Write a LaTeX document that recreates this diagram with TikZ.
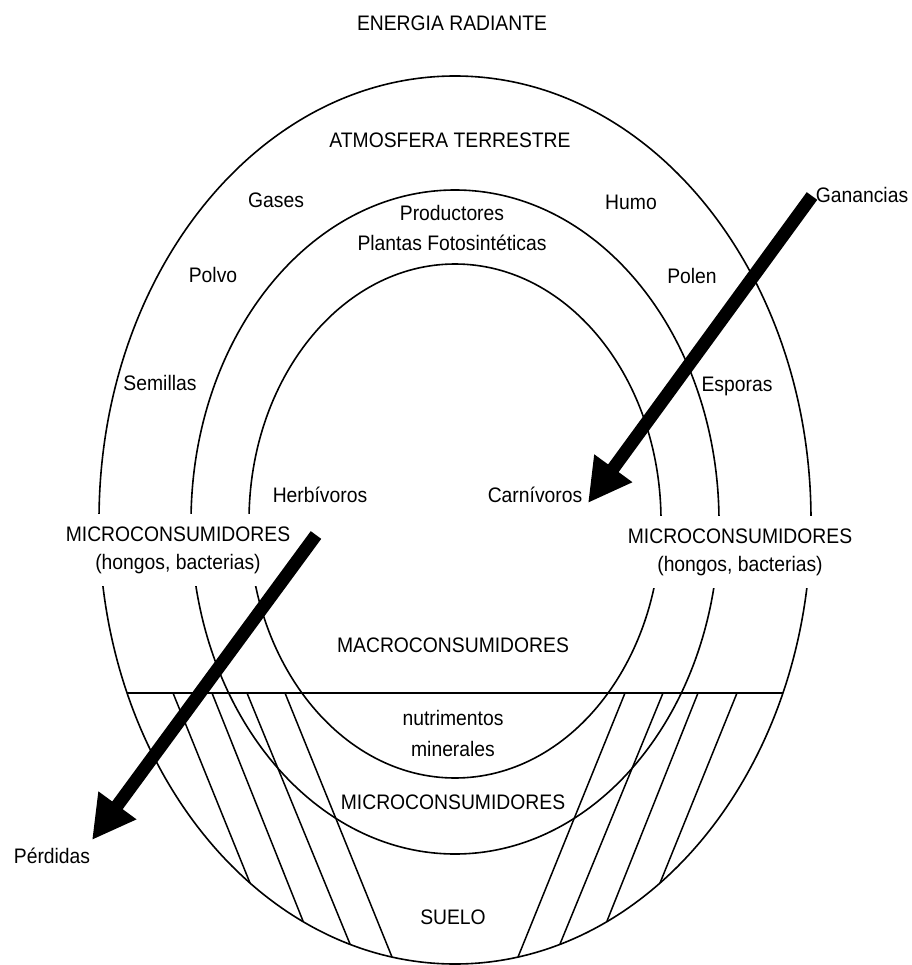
\documentclass[tikz,border=0pt]{standalone}
\usepackage{fontspec}
\setmainfont[FakeStretch=0.92]{Liberation Sans}
\usetikzlibrary{arrows.meta}
\begin{document}
\begin{tikzpicture}[x=1pt,y=-1pt,
  lbl/.style={font=\fontsize{21}{28}\selectfont, inner sep=0pt, align=center},
  gaplbl/.style={lbl, fill=white, minimum height=72pt, inner xsep=2pt},
  ring/.style={line width=1.6pt},
  hatch/.style={line width=1.5pt},
  bigarrow/.style={line width=13pt, -{Triangle[length=43pt,width=44pt]}}]
\useasboundingbox (0,0) rectangle (911,965);
\fill[white] (0,0) rectangle (911,965);
% rings
\draw[ring] (455,520) ellipse [x radius=356pt, y radius=444pt];
\draw[ring] (455,522) ellipse [x radius=264pt, y radius=332pt];
\draw[ring] (455,521) ellipse [x radius=206pt, y radius=257pt];
% ground line
\coordinate (hl) at (127,693);
\coordinate (hr) at (783,693);
\draw[hatch] (hl) -- (hr);
% hatching left
\coordinate (l1a) at (173,693); \coordinate (l1b) at (250,883);
\coordinate (l2a) at (212,693); \coordinate (l2b) at (303,921);
\coordinate (l3a) at (247,693); \coordinate (l3b) at (350,944);
\coordinate (l4a) at (285,693); \coordinate (l4b) at (392,957);
\draw[hatch] (l1a) -- (l1b) (l2a) -- (l2b) (l3a) -- (l3b) (l4a) -- (l4b);
% hatching right
\coordinate (r1a) at (737,693); \coordinate (r1b) at (660,883);
\coordinate (r2a) at (698,693); \coordinate (r2b) at (607,921);
\coordinate (r3a) at (663,693); \coordinate (r3b) at (560,944);
\coordinate (r4a) at (625,693); \coordinate (r4b) at (518,957);
\draw[hatch] (r1a) -- (r1b) (r2a) -- (r2b) (r3a) -- (r3b) (r4a) -- (r4b);
% labels
\node[lbl] (energia) at (452,23) {ENERGIA RADIANTE};
\node[lbl] (atmos) at (450,140) {ATMOSFERA TERRESTRE};
\node[lbl] (gases) at (276,200) {Gases};
\node[lbl] (prod) at (452,213) {Productores};
\node[lbl] (plantas) at (452,243) {Plantas Fotosintéticas};
\node[lbl] (humo) at (631,202) {Humo};
\node[lbl] (ganancias) at (862,195) {Ganancias};
\node[lbl] (polvo) at (213,275) {Polvo};
\node[lbl] (polen) at (692,276) {Polen};
\node[lbl] (semillas) at (160,383) {Semillas};
\node[lbl] (esporas) at (737,386) {Esporas};
\node[lbl] (herb) at (320,495) {Herbívoros};
\node[lbl] (carn) at (535,495) {Carnívoros};
\node[gaplbl] (microL) at (178,550) {MICROCONSUMIDORES\\(hongos, bacterias)};
\node[gaplbl] (microR) at (740,552) {MICROCONSUMIDORES\\(hongos, bacterias)};
\node[lbl] (macro) at (453,645) {MACROCONSUMIDORES};
\node[lbl] (nutri) at (453,718) {nutrimentos};
\node[lbl] (miner) at (453,749) {minerales};
\node[lbl] (microB) at (453,802) {MICROCONSUMIDORES};
\node[lbl] (perdidas) at (52,856) {Pérdidas};
\node[lbl] (suelo) at (453,917) {SUELO};
% big arrows
\coordinate (gs) at (812,196);
\coordinate (ge) at (588,503);
\draw[bigarrow] (gs) -- (ge);
\coordinate (ps) at (316,535);
\coordinate (pe) at (92,840);
\draw[bigarrow] (ps) -- (pe);
\end{tikzpicture}
\end{document}
